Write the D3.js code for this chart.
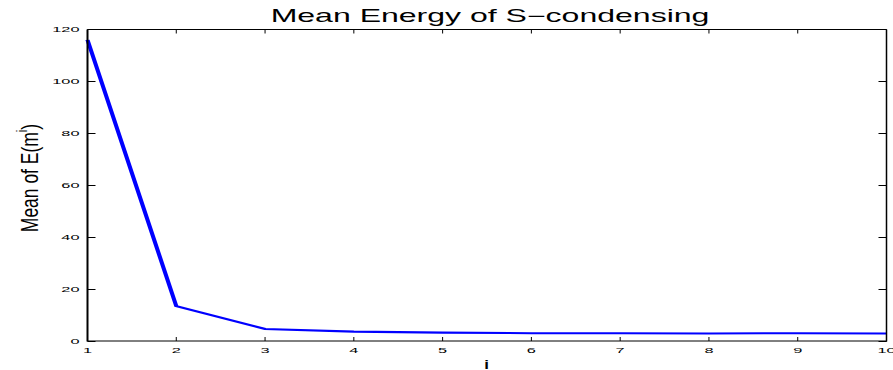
<!DOCTYPE html>
<html>
<head>
<meta charset="utf-8">
<script src="https://cdn.jsdelivr.net/npm/d3@7"></script>
<style>
  html, body { margin: 0; padding: 0; background: #fff; }
  svg { display: block; }
  text { font-family: "Liberation Sans", Arial, Helvetica, sans-serif; }
</style>
</head>
<body>
<svg id="chart" width="893" height="370"></svg>
<script>
// Iteration index and mean energy per iteration
const iterations = [1, 2, 3, 4, 5, 6, 7, 8, 9, 10];
const meanEnergy = [116, 13.6, 4.8, 3.8, 3.4, 3.2, 3.2, 3.1, 3.2, 3.1];
const xTickValues = [1, 2, 3, 4, 5, 6, 7, 8, 9, 10];
const yTickValues = [0, 20, 40, 60, 80, 100, 120];
const titleText = "Mean Energy of S\u2212condensing";
const xLabelText = "i";

const W = 893, H = 370;
const plot = { left: 87.5, right: 886.5, top: 29.5, bottom: 341.5 };
// The figure is stretched horizontally; marks and text are drawn with this factor.
const STRETCH = 2;

const svg = d3.select("#chart");

const x = d3.scaleLinear().domain([1, 10]).range([plot.left, plot.right]);
const y = d3.scaleLinear().domain([0, 120]).range([plot.bottom, plot.top]);

// Series line, drawn in a horizontally stretched frame so that steep strokes widen
const xs = d3.scaleLinear().domain([1, 10]).range([plot.left / STRETCH, plot.right / STRETCH]);
const series = iterations.map((d, i) => [d, meanEnergy[i]]);
svg.append("g")
  .attr("transform", `scale(${STRETCH},1)`)
  .append("path")
  .datum(series)
  .attr("fill", "none")
  .attr("stroke", "#0000ff")
  .attr("stroke-width", 2.1)
  .attr("stroke-linejoin", "miter")
  .attr("d", d3.line().x(d => xs(d[0])).y(d => y(d[1])));

// Axes box
const box = svg.append("g").attr("stroke", "#000").attr("fill", "none");
box.append("line").attr("x1", plot.left).attr("x2", plot.right).attr("y1", plot.top).attr("y2", plot.top).attr("stroke-width", 1);
box.append("line").attr("x1", plot.left).attr("x2", plot.right + 0.5).attr("y1", 341).attr("y2", 341).attr("stroke-width", 1);
box.append("line").attr("x1", plot.left).attr("x2", plot.left).attr("y1", plot.top).attr("y2", 341.5).attr("stroke-width", 2);
box.append("line").attr("x1", plot.right).attr("x2", plot.right).attr("y1", plot.top).attr("y2", 341.5).attr("stroke-width", 1.5);

// Ticks (inward, bottom/top and left/right)
const ticks = svg.append("g").attr("stroke", "#000").attr("stroke-width", 1);
xTickValues.forEach(v => {
  ticks.append("line").attr("x1", x(v)).attr("x2", x(v)).attr("y1", 341).attr("y2", 337);
  ticks.append("line").attr("x1", x(v)).attr("x2", x(v)).attr("y1", plot.top).attr("y2", plot.top + 4);
});
yTickValues.forEach(v => {
  ticks.append("line").attr("x1", plot.left).attr("x2", plot.left + 8).attr("y1", y(v)).attr("y2", y(v));
  ticks.append("line").attr("x1", plot.right).attr("x2", plot.right - 8).attr("y1", y(v)).attr("y2", y(v));
});

// Tick labels, stretched horizontally
const TICK_FONT = 7.6, TICK_SX = 2.15;
const labels = svg.append("g").attr("fill", "#000").attr("font-size", TICK_FONT);
xTickValues.forEach(v => {
  labels.append("text")
    .attr("transform", `translate(${x(v)},352.5) scale(${TICK_SX},1)`)
    .attr("text-anchor", "middle")
    .text(v);
});
yTickValues.forEach(v => {
  labels.append("text")
    .attr("transform", `translate(79.5,${y(v) + 2.8}) scale(${TICK_SX},1)`)
    .attr("text-anchor", "end")
    .text(v);
});

// Title
svg.append("text")
  .attr("transform", `translate(${(plot.left + plot.right) / 2 + 3},22) scale(1.83,1)`)
  .attr("text-anchor", "middle")
  .attr("font-size", 17.5)
  .attr("fill", "#000")
  .text(titleText);

// X axis label
svg.append("text")
  .attr("transform", `translate(486.5,369) scale(1.3,1)`)
  .attr("text-anchor", "middle")
  .attr("font-size", 13)
  .attr("font-weight", "bold")
  .attr("fill", "#000")
  .text(xLabelText);

// Y axis label with superscript, condensed along its direction
const yl = svg.append("text")
  .attr("transform", `translate(38.3,178) rotate(-90) scale(0.76,1)`)
  .attr("text-anchor", "middle")
  .attr("font-size", 23)
  .attr("fill", "#000");
yl.append("tspan").text("Mean of E(m");
yl.append("tspan").attr("font-size", 15).attr("dy", -11).text("i");
yl.append("tspan").attr("dy", 11).text(")");
</script>
</body>
</html>
